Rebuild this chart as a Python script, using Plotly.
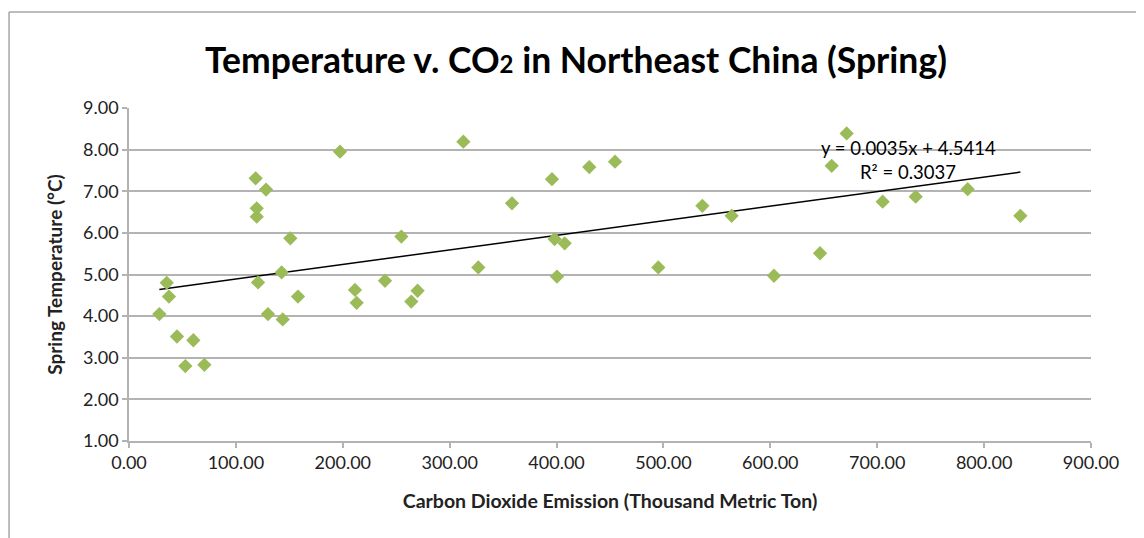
import plotly.graph_objects as go

co2 = [28.4, 35.3, 37.4, 44.9, 52.7, 60.2, 70.5, 118.5, 119.5, 119.5, 120.7, 128.2,
       130.0, 142.8, 143.8, 150.9, 158.1, 197.4, 211.4, 213.0, 239.5, 254.8, 264.1,
       270.0, 312.8, 326.8, 358.3, 395.7, 398.2, 400.4, 407.6, 430.6, 454.7, 495.2,
       536.4, 563.8, 603.4, 646.5, 657.4, 671.4, 705.1, 736.0, 784.6, 833.9]
temp = [4.05, 4.80, 4.47, 3.51, 2.80, 3.42, 2.83, 7.31, 6.59, 6.39, 4.81, 7.04,
        4.05, 5.05, 3.92, 5.87, 4.47, 7.95, 4.63, 4.32, 4.85, 5.91, 4.35,
        4.61, 8.19, 5.17, 6.71, 7.29, 5.85, 4.95, 5.75, 7.58, 7.71, 5.17,
        6.65, 6.41, 4.97, 5.51, 7.61, 8.39, 6.75, 6.87, 7.05, 6.41]

slope = 0.0035
intercept = 4.5414
r_squared = 0.3037

x_ticks = [0, 100, 200, 300, 400, 500, 600, 700, 800, 900]
y_ticks = [1, 2, 3, 4, 5, 6, 7, 8, 9]

trend_x = [min(co2), max(co2)]
trend_y = [slope * v + intercept for v in trend_x]

FONT = "Lato"
GRID = "#B3B3B3"

fig = go.Figure()
fig.add_trace(go.Scatter(
    x=trend_x, y=trend_y, mode="lines",
    line=dict(color="black", width=1.5), hoverinfo="skip"))
fig.add_trace(go.Scatter(
    x=co2, y=temp, mode="markers",
    marker=dict(symbol="diamond", size=11, color="#9BBB59",
                line=dict(width=0))))

fig.add_annotation(x=728.8, y=8.04, xref="x", yref="y", showarrow=False,
                   text=f"y = {slope:.4f}x + {intercept:.4f}",
                   font=dict(family=FONT, size=18.5, color="black"))
fig.add_annotation(x=728.8, y=7.46, xref="x", yref="y", showarrow=False,
                   text=f"R² = {r_squared:.4f}",
                   font=dict(family=FONT, size=18.5, color="black"))

# outer frame (left and top borders)
fig.add_shape(type="line", xref="paper", yref="paper",
              x0=-0.1247, x1=-0.1247, y0=1.288, y1=-0.32,
              line=dict(color="#A6A6A6", width=1.5))
fig.add_shape(type="line", xref="paper", yref="paper",
              x0=-0.1247, x1=1.08, y0=1.288, y1=1.288,
              line=dict(color="#A6A6A6", width=1.5))

fig.update_layout(
    width=1144, height=538,
    margin=dict(l=121, r=61, t=100, b=105),
    paper_bgcolor="white", plot_bgcolor="white",
    showlegend=False,
    title=dict(
        text="<b>Temperature v. CO<span style='font-size:24px'>2</span> in Northeast China (Spring)</b>",
        x=0.4965, xanchor="center", y=0.903, yanchor="middle",
        font=dict(family=FONT, size=35.5, color="black")),
    xaxis=dict(
        range=[0, 900], tickvals=x_ticks,
        ticktext=[f"{v:.2f}" for v in x_ticks],
        showgrid=False, zeroline=False,
        showline=True, linecolor=GRID, linewidth=1.5,
        ticks="outside", ticklen=5, tickcolor=GRID, tickwidth=1.5,
        tickfont=dict(family=FONT, size=18, color="#222222"),
        title=dict(text="<b>Carbon Dioxide Emission (Thousand Metric Ton)</b>",
                   font=dict(family=FONT, size=19.5, color="#222222"), standoff=22)),
    yaxis=dict(
        range=[1, 9], tickvals=y_ticks,
        ticktext=[f"{v:.2f}" for v in y_ticks],
        showgrid=True, gridcolor=GRID, gridwidth=1.5, zeroline=False,
        showline=True, linecolor=GRID, linewidth=1.5,
        ticks="outside", ticklen=5, tickcolor=GRID, tickwidth=1.5,
        tickfont=dict(family=FONT, size=18, color="#222222"),
        title=dict(text="<b>Spring Temperature (°C)</b>",
                   font=dict(family=FONT, size=19, color="#222222"), standoff=15)),
)

fig.write_html("out.html")
